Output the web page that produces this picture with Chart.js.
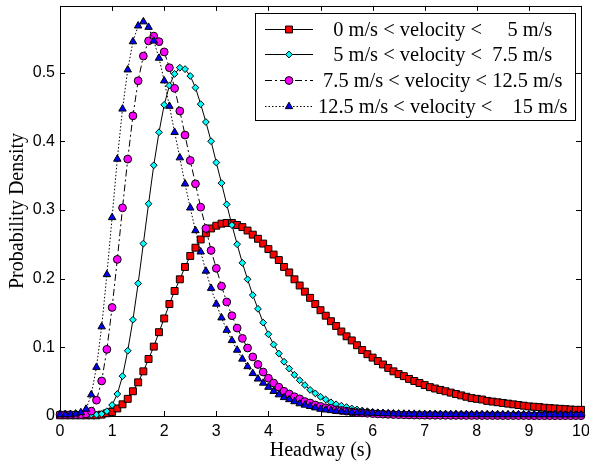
<!DOCTYPE html>
<html>
<head>
<meta charset="utf-8">
<script src="https://cdn.jsdelivr.net/npm/chart.js@4/dist/chart.umd.min.js"></script>
<style>
  html, body { margin: 0; padding: 0; background: #ffffff; }
  #c { display: block; }
</style>
</head>
<body>
<canvas id="c" width="589" height="470"></canvas>
<script>
// Headway sample points (s)
const headway = [
  0.0, 0.1, 0.2, 0.3, 0.4, 0.5, 0.6, 0.7, 0.8, 0.9,
  1.0, 1.1, 1.2, 1.3, 1.4, 1.5, 1.6, 1.7, 1.8, 1.9,
  2.0, 2.1, 2.2, 2.3, 2.4, 2.5, 2.6, 2.7, 2.8, 2.9,
  3.0, 3.1, 3.2, 3.3, 3.4, 3.5, 3.6, 3.7, 3.8, 3.9,
  4.0, 4.1, 4.2, 4.3, 4.4, 4.5, 4.6, 4.7, 4.8, 4.9,
  5.0, 5.1, 5.2, 5.3, 5.4, 5.5, 5.6, 5.7, 5.8, 5.9,
  6.0, 6.1, 6.2, 6.3, 6.4, 6.5, 6.6, 6.7, 6.8, 6.9,
  7.0, 7.1, 7.2, 7.3, 7.4, 7.5, 7.6, 7.7, 7.8, 7.9,
  8.0, 8.1, 8.2, 8.3, 8.4, 8.5, 8.6, 8.7, 8.8, 8.9,
  9.0, 9.1, 9.2, 9.3, 9.4, 9.5, 9.6, 9.7, 9.8, 9.9, 10.0
];

// Probability density per velocity class
const density0to5 = [
  0.001, 0.001, 0.001, 0.001, 0.001, 0.001, 0.001, 0.001, 0.002, 0.004,
  0.006, 0.011, 0.017, 0.025, 0.036, 0.049, 0.065, 0.083, 0.101, 0.122,
  0.142, 0.163, 0.182, 0.199, 0.217, 0.233, 0.245, 0.257, 0.266, 0.273,
  0.277, 0.280, 0.281, 0.281, 0.278, 0.275, 0.270, 0.264, 0.258, 0.251,
  0.243, 0.235, 0.227, 0.217, 0.209, 0.199, 0.190, 0.181, 0.172, 0.163,
  0.154, 0.146, 0.138, 0.131, 0.123, 0.116, 0.110, 0.103, 0.096, 0.090,
  0.085, 0.080, 0.075, 0.070, 0.065, 0.061, 0.058, 0.054, 0.051, 0.048,
  0.045, 0.042, 0.040, 0.038, 0.036, 0.034, 0.032, 0.030, 0.028, 0.026,
  0.025, 0.024, 0.022, 0.021, 0.020, 0.019, 0.018, 0.017, 0.016, 0.015,
  0.014, 0.0135, 0.013, 0.012, 0.0115, 0.011, 0.0105, 0.010, 0.0095, 0.009, 0.009
];
const density5to7_5 = [
  0.002, 0.002, 0.002, 0.002, 0.002, 0.002, 0.002, 0.002, 0.003, 0.007,
  0.016, 0.032, 0.058, 0.095, 0.140, 0.193, 0.251, 0.309, 0.365, 0.413,
  0.453, 0.481, 0.498, 0.507, 0.505, 0.495, 0.478, 0.454, 0.428, 0.400,
  0.369, 0.339, 0.308, 0.278, 0.250, 0.223, 0.199, 0.176, 0.156, 0.136,
  0.119, 0.104, 0.091, 0.079, 0.069, 0.060, 0.052, 0.045, 0.038, 0.033,
  0.028, 0.024, 0.020, 0.017, 0.015, 0.013, 0.011, 0.0095, 0.008, 0.007,
  0.006, 0.0053, 0.0047, 0.0042, 0.0038, 0.0035, 0.0032, 0.0030, 0.0028, 0.0027,
  0.0026, 0.0025, 0.0025, 0.0024, 0.0024, 0.0023, 0.0023, 0.0022, 0.0022, 0.0022,
  0.0021, 0.0021, 0.0021, 0.0021, 0.0020, 0.0020, 0.0020, 0.0020, 0.0020, 0.0020,
  0.0020, 0.0020, 0.0020, 0.0019, 0.0019, 0.0019, 0.0019, 0.0019, 0.0019, 0.0019, 0.0019
];
const density7_5to12_5 = [
  0.002, 0.002, 0.002, 0.002, 0.002, 0.003, 0.007, 0.023, 0.051, 0.097,
  0.158, 0.228, 0.303, 0.374, 0.437, 0.488, 0.524, 0.546, 0.553, 0.545,
  0.530, 0.507, 0.477, 0.444, 0.409, 0.372, 0.338, 0.304, 0.273, 0.241,
  0.215, 0.189, 0.166, 0.146, 0.128, 0.113, 0.099, 0.086, 0.075, 0.064,
  0.055, 0.048, 0.042, 0.036, 0.032, 0.028, 0.025, 0.021, 0.019, 0.016,
  0.014, 0.012, 0.011, 0.009, 0.008, 0.007, 0.006, 0.005, 0.0045, 0.004,
  0.0035, 0.0030, 0.0027, 0.0024, 0.0021, 0.0019, 0.0017, 0.0015, 0.0014, 0.0013,
  0.0012, 0.0011, 0.0011, 0.0010, 0.0010, 0.0009, 0.0009, 0.0009, 0.0008, 0.0008,
  0.0008, 0.0007, 0.0007, 0.0007, 0.0007, 0.0006, 0.0006, 0.0006, 0.0006, 0.0006,
  0.0006, 0.0005, 0.0005, 0.0005, 0.0005, 0.0005, 0.0005, 0.0005, 0.0005, 0.0005, 0.0005
];
const density12_5to15 = [
  0.002, 0.002, 0.002, 0.003, 0.005, 0.010, 0.031, 0.071, 0.130, 0.206,
  0.289, 0.374, 0.447, 0.504, 0.545, 0.568, 0.574, 0.566, 0.546, 0.521,
  0.488, 0.451, 0.413, 0.376, 0.338, 0.303, 0.270, 0.239, 0.211, 0.186,
  0.163, 0.143, 0.125, 0.110, 0.096, 0.083, 0.072, 0.062, 0.054, 0.048,
  0.042, 0.036, 0.031, 0.027, 0.024, 0.021, 0.018, 0.016, 0.014, 0.012,
  0.010, 0.009, 0.008, 0.007, 0.0065, 0.006, 0.0055, 0.005, 0.0047, 0.0044,
  0.0041, 0.0038, 0.0036, 0.0034, 0.0032, 0.0030, 0.0029, 0.0028, 0.0027, 0.0026,
  0.0025, 0.0025, 0.0024, 0.0024, 0.0023, 0.0023, 0.0023, 0.0022, 0.0022, 0.0022,
  0.0021, 0.0021, 0.0021, 0.0021, 0.0020, 0.0020, 0.0020, 0.0020, 0.0020, 0.0020,
  0.0020, 0.0020, 0.0019, 0.0019, 0.0019, 0.0019, 0.0018, 0.0018, 0.0018, 0.0018, 0.0018
];

const seriesLabels = [
  '   0 m/s < velocity <     5 m/s',
  '   5 m/s < velocity <  7.5 m/s',
  ' 7.5 m/s < velocity < 12.5 m/s',
  '12.5 m/s < velocity <    15 m/s'
];

const xTicks = [0, 1, 2, 3, 4, 5, 6, 7, 8, 9, 10];
const yTicks = [0, 0.1, 0.2, 0.3, 0.4, 0.5];

const SANS = '"Liberation Sans", Arial, Helvetica, sans-serif';
const SERIF = '"Liberation Serif", "Times New Roman", Times, serif';

const toPoints = (vals) => headway.map((h, i) => ({ x: h, y: vals[i] }));

function series(label, vals, style) {
  return Object.assign({
    label,
    data: toPoints(vals),
    borderColor: '#000000',
    borderWidth: 1,
    pointBorderColor: '#000000',
    pointBorderWidth: 1,
    pointHoverRadius: 0,
    tension: 0,
    fill: false,
    clip: false
  }, style);
}

const datasets = [
  series(seriesLabels[0], density0to5, {
    pointStyle: 'rect', pointRadius: 4.9, pointBackgroundColor: '#ff0000', order: 4
  }),
  series(seriesLabels[1], density5to7_5, {
    pointStyle: 'rectRot', pointRadius: 3.4, pointBackgroundColor: '#00ffff', order: 3
  }),
  series(seriesLabels[2], density7_5to12_5, {
    pointStyle: 'circle', pointRadius: 3.9, pointBackgroundColor: '#ff00ff',
    borderDash: [7, 3, 2, 3], order: 2
  }),
  series(seriesLabels[3], density12_5to15, {
    pointStyle: 'triangle', pointRadius: 4.3, pointBackgroundColor: '#0000ff',
    borderDash: [1.5, 2], order: 1
  })
];

// Box around the plot with inward ticks on all four sides
const frameTicks = {
  id: 'frameTicks',
  beforeDatasetsDraw(chart) {
    const { ctx, chartArea: a, scales: { x, y } } = chart;
    const len = 5;
    ctx.save();
    ctx.strokeStyle = '#000000';
    ctx.lineWidth = 1;
    ctx.beginPath();
    ctx.rect(Math.round(a.left) + 0.5, Math.round(a.top) + 0.5,
             Math.round(a.right - a.left), Math.round(a.bottom - a.top));
    xTicks.forEach(v => {
      const px = Math.round(x.getPixelForValue(v)) + 0.5;
      ctx.moveTo(px, a.bottom); ctx.lineTo(px, a.bottom - len);
      ctx.moveTo(px, a.top); ctx.lineTo(px, a.top + len);
    });
    yTicks.forEach(v => {
      const py = Math.round(y.getPixelForValue(v)) + 0.5;
      ctx.moveTo(a.left, py); ctx.lineTo(a.left + len, py);
      ctx.moveTo(a.right, py); ctx.lineTo(a.right - len, py);
    });
    ctx.stroke();
    ctx.restore();
  }
};

// Boxed legend with line samples and markers
const boxLegend = {
  id: 'boxLegend',
  afterDraw(chart) {
    const { ctx } = chart;
    const box = { left: 255, top: 13, right: 575, bottom: 120 };
    const firstRow = 28.5, rowStep = 25.8;
    const lineFrom = 265, lineTo = 313, textX = 318;
    ctx.save();
    ctx.fillStyle = '#ffffff';
    ctx.fillRect(box.left, box.top, box.right - box.left, box.bottom - box.top);
    ctx.strokeStyle = '#000000';
    ctx.lineWidth = 1;
    ctx.strokeRect(box.left + 0.5, box.top + 0.5, box.right - box.left, box.bottom - box.top);
    chart.data.datasets.forEach((ds, i) => {
      const yRow = Math.round(firstRow + i * rowStep) + 0.5;
      ctx.save();
      ctx.strokeStyle = ds.borderColor;
      ctx.lineWidth = ds.borderWidth;
      ctx.setLineDash(ds.borderDash || []);
      ctx.beginPath();
      ctx.moveTo(lineFrom, yRow);
      ctx.lineTo(lineTo, yRow);
      ctx.stroke();
      ctx.restore();
      ctx.save();
      ctx.fillStyle = ds.pointBackgroundColor;
      ctx.strokeStyle = ds.pointBorderColor;
      ctx.lineWidth = ds.pointBorderWidth;
      Chart.helpers.drawPoint(ctx, {
        pointStyle: ds.pointStyle, radius: ds.pointRadius, rotation: 0,
        borderWidth: ds.pointBorderWidth
      }, (lineFrom + lineTo) / 2, yRow);
      ctx.restore();
      ctx.fillStyle = '#000000';
      ctx.font = '20.4px ' + SERIF;
      ctx.textAlign = 'left';
      ctx.textBaseline = 'middle';
      ctx.fillText(ds.label, textX, yRow + 1);
    });
    ctx.restore();
  }
};

new Chart(document.getElementById('c'), {
  type: 'line',
  data: { datasets },
  options: {
    responsive: false,
    animation: false,
    events: [],
    layout: { padding: { top: 4, right: 8, bottom: 0, left: 0 } },
    plugins: { legend: { display: false }, tooltip: { enabled: false } },
    scales: {
      x: {
        type: 'linear', min: 0, max: 10,
        grid: { display: false, drawTicks: false },
        border: { display: false },
        afterBuildTicks: s => { s.ticks = xTicks.map(v => ({ value: v })); },
        afterFit: s => { s.height = 54; s.paddingLeft = 0; s.paddingRight = 0; },
        ticks: {
          autoSkip: false, maxRotation: 0, padding: 6, color: '#000000',
          font: { family: SANS, size: 16 },
          callback: v => String(v)
        },
        title: {
          display: true, text: 'Headway (s)', color: '#000000',
          font: { family: SERIF, size: 20 }, padding: { top: 0, bottom: 7 }
        }
      },
      y: {
        type: 'linear', min: 0, max: 0.597,
        grid: { display: false, drawTicks: false },
        border: { display: false },
        afterBuildTicks: s => { s.ticks = yTicks.map(v => ({ value: v })); },
        afterFit: s => { s.width = 60; s.paddingTop = 0; s.paddingBottom = 0; },
        ticks: {
          autoSkip: false, padding: 5, color: '#000000',
          font: { family: SANS, size: 16 },
          callback: v => String(Math.round(v * 10) / 10)
        },
        title: {
          display: true, text: 'Probability Density', color: '#000000',
          font: { family: SERIF, size: 20 }, padding: { top: 6, bottom: 0 }
        }
      }
    }
  },
  plugins: [frameTicks, boxLegend]
});
</script>
</body>
</html>
